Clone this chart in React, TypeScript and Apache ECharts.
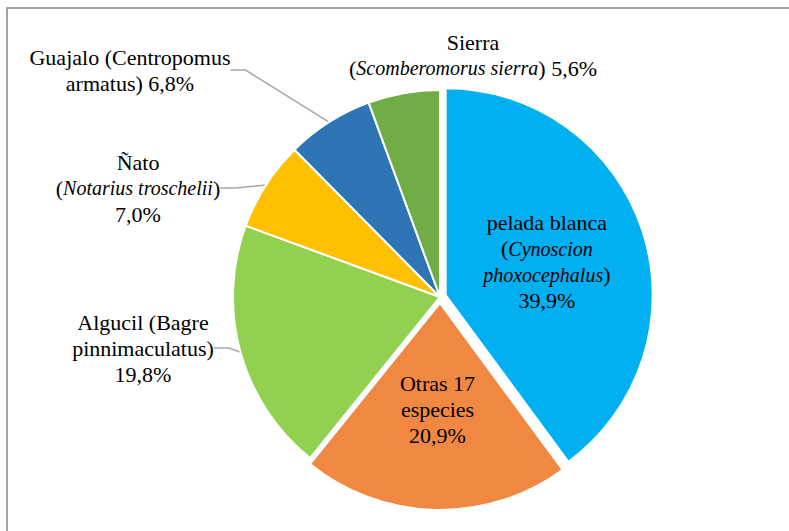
import React, { useEffect, useRef } from "react";
import * as echarts from "echarts";

const names = ["pelada blanca", "Otras 17 especies", "Algucil", "Ñato", "Guajalo", "Sierra"];
const values = [39.9, 20.9, 19.8, 7.0, 6.8, 5.6];
const colors = ["#00B0F0", "#F08841", "#92D050", "#FFC000", "#2E75B6", "#70AD47"];
const exploded = [true, true, false, false, false, false];
const insideLabel = [true, true, false, false, false, false];
const showLeader = [false, false, true, true, true, false];

const pct = (v: number) => v.toFixed(1).replace(".", ",") + "%";

// label texts (rich text: {i|...} is italic)
const labelTexts = [
  (v: number) => `{n|pelada blanca}\n{n|(}{i|Cynoscion}\n{i|phoxocephalus}{n|)}\n{n|${pct(v)}}`,
  (v: number) => `{n|Otras 17}\n{n|especies}\n{n|${pct(v)}}`,
  (v: number) => `{n|Algucil (Bagre}\n{n|pinnimaculatus)}\n{n|${pct(v)}}`,
  (v: number) => `{n|Ñato}\n{n|(}{i|Notarius troschelii}{n|)}\n{n|${pct(v)}}`,
  (v: number) => `{n|Guajalo (Centropomus}\n{n|armatus) ${pct(v)}}`,
  (v: number) => `{n|Sierra}\n{n|(}{i|Scomberomorus sierra}{n|) ${pct(v)}}`,
];

const labelPos: number[][] = [
  [548, 271],
  [428, 416],
  [143, 348],
  [138, 188],
  [130, 70],
  [473, 55],
];

const FONT = "serif";

export default function App() {
  const ref = useRef<HTMLDivElement>(null);
  useEffect(() => {
    document.body.style.margin = "0";
    if (!ref.current) return;
    const chart = echarts.init(ref.current, null, { renderer: "svg" });
    const data = names.map((n, i) => ({
      name: n,
      value: values[i],
      selected: exploded[i],
      itemStyle: { color: colors[i] },
      label: {
        position: insideLabel[i] ? "inside" : "outside",
        formatter: labelTexts[i](values[i]),
      },
      labelLine: { show: showLeader[i] },
    }));
    chart.setOption({
      animation: false,
      backgroundColor: "#ffffff",
      textStyle: { fontFamily: FONT },
      graphic: [
        {
          type: "rect",
          silent: true,
          shape: { x: 7, y: 8, width: 900, height: 700 },
          style: { fill: "none", stroke: "#878787", lineWidth: 1.5 },
        },
      ],
      series: [
        {
          type: "pie",
          center: [440, 297],
          radius: 207,
          startAngle: 90,
          clockwise: true,
          selectedMode: "multiple",
          selectedOffset: 6,
          avoidLabelOverlap: false,
          emphasis: { disabled: true },
          itemStyle: { borderColor: "#ffffff", borderWidth: 2 },
          select: { itemStyle: { borderColor: "#ffffff", borderWidth: 2 } },
          label: {
            show: true,
            color: "#000000",
            fontFamily: FONT,
            fontSize: 22,
            lineHeight: 26,
            align: "center",
            rich: {
              n: { fontFamily: FONT, fontSize: 22, lineHeight: 26, color: "#000000" },
              i: { fontFamily: FONT, fontSize: 20, lineHeight: 26, fontStyle: "italic", color: "#000000" },
            },
          },
          labelLine: {
            show: true,
            length: 15,
            length2: 15,
            lineStyle: { color: "#A6A6A6", width: 1.5 },
          },
          labelLayout: (params: any) => {
            const p = labelPos[params.dataIndex];
            return { x: p[0], y: p[1], align: "center", verticalAlign: "middle" };
          },
          data,
        },
      ],
    });
    return () => chart.dispose();
  }, []);
  return <div ref={ref} style={{ width: 789, height: 531 }} />;
}
